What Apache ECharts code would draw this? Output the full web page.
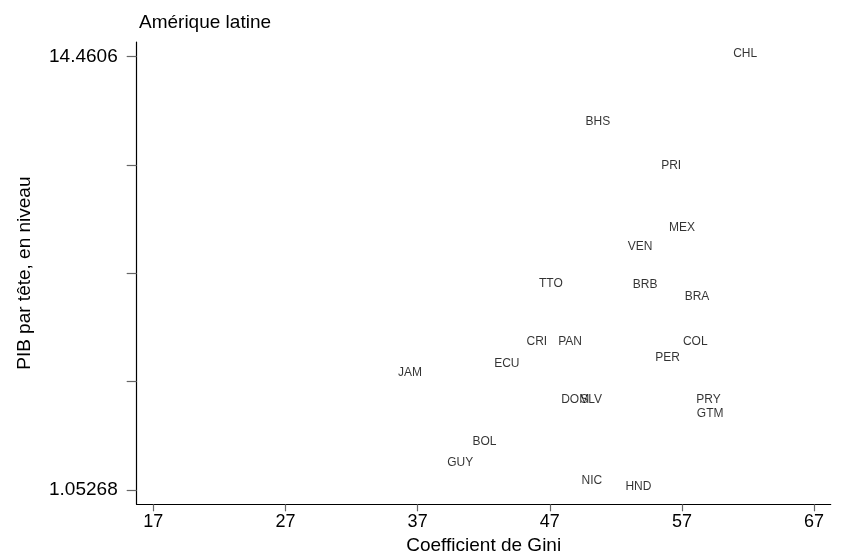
<!DOCTYPE html>
<html>
<head>
<meta charset="utf-8">
<script src="https://cdn.jsdelivr.net/npm/echarts@6/dist/echarts.min.js"></script>
<style>
html,body{margin:0;padding:0;background:#fff;}
#c{width:842px;height:556px;}
</style>
</head>
<body>
<div id="c"></div>
<script>
// Data
const countries = ["CHL","BHS","PRI","MEX","VEN","TTO","BRB","BRA","CRI","PAN","COL","PER","ECU","JAM","DOM","SLV","PRY","GTM","BOL","GUY","NIC","HND"];
const gini      = [61.79,50.64,56.19,57.00,53.84,47.08,54.22,58.14,46.02,48.54,58.01,55.91,43.75,36.43,48.92,50.13,59.01,59.14,42.06,40.22,50.19,53.71];
const pib       = [14.4606,12.35,10.98,9.07,8.48,7.35,7.32,6.94,5.55,5.55,5.55,5.05,4.86,4.59,3.74,3.74,3.74,3.33,2.45,1.80,1.24,1.05268];
const xTicks = [17,27,37,47,57,67];
const yMin = 1.05268, yMax = 14.4606;
const yTicks = [yMin, yMin+(yMax-yMin)/4, yMin+(yMax-yMin)/2, yMin+3*(yMax-yMin)/4, yMax];
const yLabels = [yMin, yMax];

const pts = countries.map((c,i)=>({name:c, value:[gini[i], pib[i]]}));

const chart = echarts.init(document.getElementById('c'), null, {renderer:'canvas'});
const font = "'Liberation Sans', Arial, sans-serif";
chart.setOption({
  animation:false,
  backgroundColor:'#fff',
  title:{text:'Amérique latine', left:134, top:8, textStyle:{fontFamily:font, fontSize:19, fontWeight:'normal', color:'#000'}},
  grid:{left:136.7, right:11.3, top:42, bottom:51.7, containLabel:false, outerBoundsMode:'none'},
  xAxis:{
    type:'value', min:15.74, max:68.26,
    name:'Coefficient de Gini', nameLocation:'middle', nameGap:25,
    nameTextStyle:{fontFamily:font, fontSize:19, color:'#000'},
    splitLine:{show:false},
    axisLine:{lineStyle:{color:'#000', width:1.2}},
    axisTick:{customValues:xTicks, length:7, lineStyle:{color:'#666', width:1.2}},
    axisLabel:{customValues:xTicks, margin:9, fontFamily:"'Liberation Sans Narrow', 'Arial Narrow', "+font, fontSize:18, color:'#000'}
  },
  yAxis:{
    type:'value', min:0.610, max:14.909,
    name:'PIB par tête, en niveau', nameLocation:'middle', nameGap:102, nameRotate:90,
    nameTextStyle:{fontFamily:font, fontSize:19, color:'#000'},
    splitLine:{show:false},
    axisLine:{show:true, lineStyle:{color:'#000', width:1.2}},
    axisTick:{show:true, customValues:yTicks, length:10, lineStyle:{color:'#666', width:1.2}},
    axisLabel:{customValues:yLabels, margin:19, fontFamily:font, fontSize:19, color:'#000',
      formatter:v=> Math.abs(v-yMax)<1e-6 ? '14.4606' : (Math.abs(v-yMin)<1e-6 ? '1.05268' : '')}
  },
  series:[{
    type:'scatter', symbolSize:0, data:pts,
    label:{show:true, position:'inside', offset:[0,-3], formatter:p=>p.name,
      fontFamily:font, fontSize:12, color:'#000'},
    emphasis:{disabled:true}
  }]
});
</script>
</body>
</html>
